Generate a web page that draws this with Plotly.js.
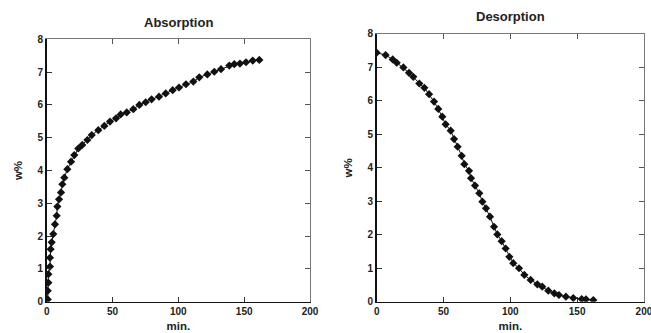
<!DOCTYPE html>
<html>
<head>
<meta charset="utf-8">
<script src="https://cdn.plot.ly/plotly-3.0.1.min.js"></script>
<style>html,body{margin:0;padding:0;background:#fff;}#chart{width:651px;height:333px;}</style>
</head>
<body>
<div id="chart"></div>
<script>
// Absorption data (min., w%)
var absTime = [0.8,0.8,1.3,1.3,2.5,2.5,3,3.8,5,6.3,7.6,8.1,9.4,10.9,11.9,13.4,15.7,18.5,21,24,27,30.9,34.2,39.2,43.8,48.1,52.7,56.2,60.8,65.8,70.4,75.2,79.7,85.3,90.4,95.7,100.5,105.8,111.4,115.9,122,127.3,132.4,138.7,142.5,146.8,151.4,156.5,161.5];
var absW = [0.07,0.33,0.58,0.84,1.07,1.34,1.6,1.81,2.06,2.36,2.62,2.9,3.12,3.33,3.58,3.78,4.04,4.27,4.47,4.67,4.78,4.93,5.08,5.23,5.36,5.49,5.59,5.71,5.77,5.87,6.0,6.08,6.17,6.25,6.35,6.45,6.53,6.63,6.71,6.84,6.93,7.01,7.09,7.2,7.24,7.26,7.3,7.35,7.37];
// Desorption data (min., w%)
var desTime = [0,6.7,12,15,20,24.2,27.4,31.9,35.7,39.2,42.9,46.1,49.1,51.6,55.4,57.9,60.6,63.6,65.6,69.1,70.6,73.6,76.8,79.1,81.8,84.8,87.8,90.3,93.5,96.5,99.3,102.2,106.5,110.5,115.2,120.2,123.9,128.4,132.9,136.4,141.6,147.1,153.4,156.6,162.1];
var desW = [7.44,7.37,7.24,7.14,7.0,6.84,6.72,6.52,6.39,6.2,5.98,5.76,5.53,5.3,5.11,4.86,4.63,4.36,4.11,3.91,3.69,3.47,3.24,2.99,2.79,2.54,2.24,2.01,1.81,1.59,1.34,1.15,1.0,0.8,0.65,0.52,0.45,0.33,0.25,0.2,0.15,0.11,0.08,0.07,0.05];
var xTicks = [0,50,100,150,200];
var yTicks = [0,1,2,3,4,5,6,7,8];
var titles = ['Absorption','Desorption'];
var xLabel = 'min.';
var yLabel = 'w%';

var FONT = 'Liberation Sans, Arial, sans-serif';
var marker = {symbol:'diamond', size:6.3, color:'#111'};
var line = {color:'#111', width:1};

var traces = [
  {x:absTime, y:absW, type:'scatter', mode:'lines+markers', marker:marker, line:line, xaxis:'x', yaxis:'y', hoverinfo:'x+y'},
  {x:desTime, y:desW, type:'scatter', mode:'lines+markers', marker:marker, line:line, xaxis:'x2', yaxis:'y2', hoverinfo:'x+y'}
];

var tickFont = {family:FONT, size:10, color:'#222', weight:'bold'};
function xMain(domain, anchor){
  return {domain:domain, anchor:anchor, range:[0,200], tickvals:xTicks, ticks:'inside', ticklen:5, tickcolor:'#333',
    ticklabeloverflow:'allow',
    showline:true, linecolor:'#111', linewidth:1.5, showgrid:false, zeroline:false, tickfont:tickFont,
    title:{text:xLabel, font:{family:FONT, size:11.5, color:'#222', weight:'bold'}, standoff:6}};
}
function yMain(domain, anchor){
  return {domain:domain, anchor:anchor, range:[0,8], tickvals:yTicks, ticks:'inside', ticklen:5, tickcolor:'#333',
    showline:true, linecolor:'#111', linewidth:1.5, showgrid:false, zeroline:false, tickfont:tickFont,
    title:{text:yLabel, font:{family:FONT, size:11.5, color:'#222', weight:'bold'}, standoff:12}};
}
function xTop(over, anchor){
  return {overlaying:over, anchor:anchor, side:'top', range:[0,200], tickvals:xTicks, ticks:'inside', ticklen:5, tickcolor:'#555',
    showticklabels:false, showline:true, linecolor:'#777', linewidth:1.2, showgrid:false, zeroline:false};
}
function yRight(over, anchor){
  return {overlaying:over, anchor:anchor, side:'right', range:[0,8], tickvals:yTicks, ticks:'inside', ticklen:5, tickcolor:'#555',
    showticklabels:false, showline:true, linecolor:'#777', linewidth:1.2, showgrid:false, zeroline:false};
}

var layout = {
  width:651, height:333, margin:{l:0,r:0,t:0,b:0}, paper_bgcolor:'#fff', plot_bgcolor:'#fff', showlegend:false,
  xaxis: xMain([0.0717,0.4762],'y'),
  yaxis: yMain([0.094,0.882],'x'),
  xaxis2: xMain([0.5786,0.9892],'y2'),
  yaxis2: yMain([0.094,0.898],'x2'),
  xaxis3: xTop('x','y'),
  yaxis3: yRight('y','x'),
  xaxis4: xTop('x2','y2'),
  yaxis4: yRight('y2','x2'),
  annotations:[
    {text:titles[0], xref:'paper', yref:'paper', x:0.274, y:1-22.7/333, showarrow:false, xanchor:'center', yanchor:'middle',
      font:{family:FONT, size:13, color:'#222', weight:'bold'}},
    {text:titles[1], xref:'paper', yref:'paper', x:0.7845, y:1-17/333, showarrow:false, xanchor:'center', yanchor:'middle',
      font:{family:FONT, size:13, color:'#222', weight:'bold'}}
  ]
};
// dummy traces so overlay axes render
traces.push({x:[null], y:[null], xaxis:'x3', yaxis:'y3', type:'scatter', showlegend:false, hoverinfo:'skip'});
traces.push({x:[null], y:[null], xaxis:'x4', yaxis:'y4', type:'scatter', showlegend:false, hoverinfo:'skip'});

Plotly.newPlot('chart', traces, layout, {displayModeBar:false, staticPlot:true});
</script>
</body>
</html>
